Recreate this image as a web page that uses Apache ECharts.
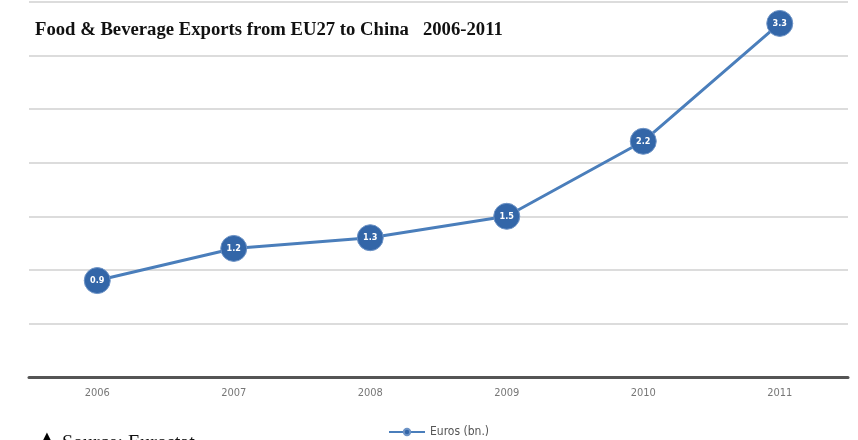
<!DOCTYPE html>
<html>
<head>
<meta charset="utf-8">
<script src="https://cdn.jsdelivr.net/npm/echarts@6/dist/echarts.min.js"></script>
<style>
  html, body { margin: 0; padding: 0; background: #fff; }
  #chart { width: 858px; height: 440px; }
</style>
</head>
<body>
<div id="chart"></div>
<script>
// 数据
var years = ['2006', '2007', '2008', '2009', '2010', '2011'];
var euros = [0.9, 1.2, 1.3, 1.5, 2.2, 3.3];
var seriesName = 'Euros (bn.)';

var sansFont = '"DejaVu Sans Condensed", "Liberation Sans", sans-serif';

var myChart = echarts.init(document.getElementById('chart'));
var option = {
    backgroundColor: '#ffffff',
    animation: false,
    title: {
        text: 'Food & Beverage Exports from EU27 to China   2006-2011',
        left: 30,
        top: 16,
        textStyle: {
            fontFamily: 'Liberation Serif',
            fontWeight: 'bold',
            fontSize: 18.7,
            color: '#111'
        }
    },
    grid: {
        left: 29,
        right: 10,
        top: 2,
        bottom: 63,
        containLabel: false
    },
    legend: {
        data: [seriesName],
        top: 421,
        left: 383,
        itemWidth: 36,
        itemHeight: 8,
        itemGap: 4,
        textStyle: { fontSize: 12, color: '#555', fontFamily: sansFont }
    },
    xAxis: {
        type: 'category',
        data: years,
        axisLine: { show: true, lineStyle: { color: '#555', width: 3 } },
        axisTick: { show: false },
        axisLabel: { color: '#777', fontSize: 11, margin: 11, fontFamily: sansFont }
    },
    yAxis: {
        type: 'value',
        min: 0,
        max: 3.5,
        interval: 0.5,
        axisLabel: { show: false },
        axisLine: { show: false },
        axisTick: { show: false },
        splitLine: { show: true, lineStyle: { color: '#dcdcdc', width: 2 } }
    },
    series: [{
        name: seriesName,
        type: 'line',
        data: euros,
        symbol: 'circle',
        symbolSize: 26,
        lineStyle: { color: '#4a7ebb', width: 3 },
        itemStyle: { color: '#3366a8', borderColor: '#6d93c6', borderWidth: 1 },
        label: {
            show: true,
            position: 'inside',
            color: '#fff',
            fontWeight: 'bold',
            fontSize: 9,
            fontFamily: sansFont
        }
    }],
    graphic: [{
        type: 'text',
        left: 40,
        top: 430,
        style: {
            text: '▲',
            font: '18px "DejaVu Sans"',
            fill: '#000'
        }
    }, {
        type: 'text',
        left: 62,
        top: 434,
        style: {
            text: 'Source: Eurostat',
            font: '20px "Liberation Serif"',
            fill: '#111'
        }
    }]
};
myChart.setOption(option);
</script>
</body>
</html>
